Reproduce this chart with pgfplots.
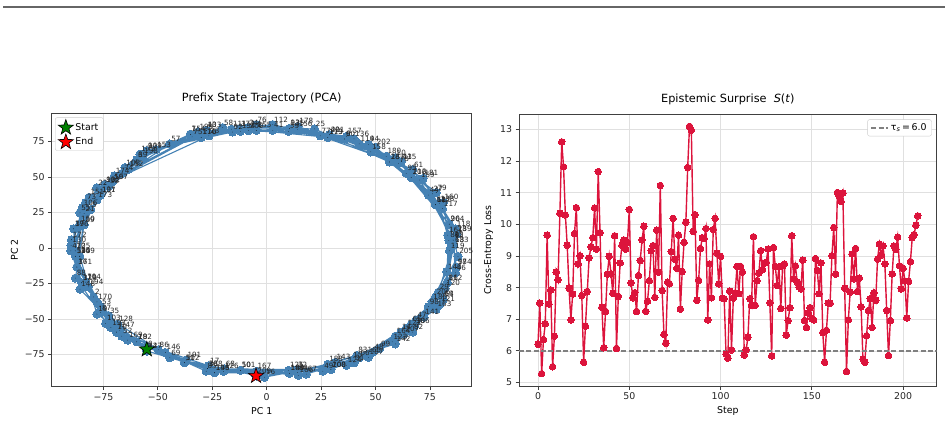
\documentclass[border=0pt]{standalone}
\usepackage{fontspec}
\setmainfont{DejaVu Sans}
\usepackage{pgfplots}
\usepackage{pgfplotstable}
\pgfplotsset{compat=1.18}
\definecolor{steel}{RGB}{70,130,180}
\definecolor{crim}{RGB}{220,20,60}
\definecolor{mgreen}{RGB}{0,128,0}
\definecolor{mred}{RGB}{255,0,0}
\pgfdeclareplotmark{fstar}{%
  \pgfpathmoveto{\pgfpointpolar{90}{\pgfplotmarksize}}%
  \pgfpathlineto{\pgfpointpolar{126}{0.40\pgfplotmarksize}}%
  \pgfpathlineto{\pgfpointpolar{162}{\pgfplotmarksize}}%
  \pgfpathlineto{\pgfpointpolar{198}{0.40\pgfplotmarksize}}%
  \pgfpathlineto{\pgfpointpolar{234}{\pgfplotmarksize}}%
  \pgfpathlineto{\pgfpointpolar{270}{0.40\pgfplotmarksize}}%
  \pgfpathlineto{\pgfpointpolar{306}{\pgfplotmarksize}}%
  \pgfpathlineto{\pgfpointpolar{342}{0.40\pgfplotmarksize}}%
  \pgfpathlineto{\pgfpointpolar{18}{\pgfplotmarksize}}%
  \pgfpathlineto{\pgfpointpolar{54}{0.40\pgfplotmarksize}}%
  \pgfpathclose
  \pgfusepathqfillstroke
}
\pgfplotsset{
  mystyle/.style={
    scale only axis,
    axis line style={black!75, line width=0.8bp},
    tick style={black!75, line width=0.8bp},
    tick align=outside, major tick length=3.5bp,
    xtick pos=left, ytick pos=left,
    grid=major, grid style={black!12, line width=0.7bp},
    tick label style={font=\fontsize{9.4bp}{11bp}\selectfont, text=black!85},
    label style={font=\fontsize{9.4bp}{11bp}\selectfont},
    title style={font=\fontsize{11.3bp}{13bp}\selectfont},
    /pgf/number format/assume math mode=true,
    legend style={font=\fontsize{9.4bp}{11bp}\selectfont, draw=black!20, fill=white, rounded corners=2bp},
    legend cell align=left,
  }
}
\pgfplotstableread{
n x y
0 -55.1 -71.4
1 -69.1 -59.2
2 -79.5 -34.5
3 -85.0 -24.5
4 -90.0 -2.0
5 -80.9 27.1
6 -59.7 62.1
7 -35.1 80.1
8 -4.8 82.9
9 35.8 76.8
10 59.1 63.6
11 77.5 30.5
12 85.7 5.6
13 81.1 -36.1
14 61.6 -59.4
15 39.2 -79.1
16 -1.0 -91.0
17 -26.6 -83.0
18 -59.7 -66.1
19 -78.0 -46.5
20 -85.9 -5.8
21 -83.9 24.2
22 -78.0 42.5
23 -26.6 79.0
24 -8.6 84.7
25 22.0 83.9
26 56.4 60.6
27 76.1 38.2
28 87.2 9.7
29 78.9 -31.1
30 68.0 -54.9
31 40.1 -80.9
32 13.8 -85.7
33 -27.2 -84.9
34 -55.1 -72.6
35 -72.6 -47.6
36 -87.2 -13.4
37 -88.7 13.5
38 -72.6 43.6
39 -59.7 62.1
40 -27.8 82.8
41 2.8 82.9
42 28.8 79.8
43 61.9 60.9
44 74.3 37.3
45 85.7 5.6
46 86.7 -17.5
47 68.7 -50.8
48 48.9 -73.3
49 25.8 -86.8
50 -12.1 -86.2
51 -37.8 -80.8
52 -66.6 -62.1
53 -76.3 -41.3
54 -87.9 -5.8
55 -85.8 24.8
56 -70.7 46.8
57 -44.5 73.3
58 -20.2 84.8
59 10.1 82.2
60 35.8 76.8
61 67.1 55.2
62 77.5 30.5
63 85.9 1.8
64 81.1 -36.1
65 66.4 -53.7
66 42.5 -77.3
67 18.2 -88.8
68 -19.4 -85.0
69 -44.5 -77.3
70 -69.1 -59.2
71 -83.1 -24.0
72 -88.0 -2.0
73 -83.2 32.1
74 -66.1 52.6
75 -34.3 78.3
76 -4.8 86.9
77 24.6 79.0
78 60.5 59.5
79 77.9 39.1
80 83.7 5.4
81 83.0 -24.5
82 67.1 -59.2
83 41.5 -75.6
84 14.1 -87.7
85 -27.8 -86.8
86 -49.8 -71.7
87 -76.3 -45.5
88 -87.9 -21.2
89 -83.9 16.4
90 -74.3 44.7
91 -55.1 68.6
92 -15.8 81.7
93 10.4 84.2
94 46.8 73.0
95 64.1 52.6
96 83.9 16.8
97 87.2 -13.7
98 74.3 -41.3
99 51.9 -71.0
100 29.5 -85.7
101 -12.1 -86.2
102 -37.8 -80.8
103 -74.0 -53.1
104 -83.1 -24.0
105 -88.0 -2.0
106 -84.7 28.5
107 -76.3 37.3
108 -65.1 56.7
109 -55.1 68.6
110 -30.1 77.9
111 -16.1 83.7
112 2.8 86.9
113 28.1 77.9
114 42.5 73.3
115 61.9 60.9
116 66.4 49.7
117 80.8 27.8
118 86.7 13.5
119 84.0 -2.0
120 81.9 -28.2
121 79.6 -39.7
122 64.1 -56.6
123 57.7 -66.1
124 36.7 -82.6
125 10.1 -86.2
126 -19.8 -86.9
127 -55.1 -72.6
128 -68.4 -53.7
129 -85.0 -24.5
130 -89.9 1.9
131 -76.3 37.3
132 -74.3 44.7
133 -27.8 82.8
134 -12.1 82.2
135 10.4 84.2
136 40.1 76.9
137 56.4 60.6
138 79.3 31.3
139 87.2 9.7
140 82.7 -16.8
141 72.3 -48.7
142 59.1 -67.6
143 31.5 -80.5
144 10.4 -88.2
145 -24.0 -87.9
146 -46.6 -73.6
147 -67.6 -57.9
148 -85.8 -29.0
149 -85.9 -5.8
150 -85.9 16.8
151 -81.6 35.7
152 -63.6 55.4
153 -50.9 69.3
154 -35.1 80.1
155 -4.8 82.9
156 14.1 83.7
157 36.7 78.6
158 47.8 67.7
159 70.3 47.9
160 81.1 32.1
161 83.2 9.1
162 83.0 -24.5
163 77.9 -43.1
164 59.1 -62.1
165 45.7 -75.3
166 14.5 -89.7
167 -4.8 -86.9
168 -27.2 -84.9
169 -63.9 -64.9
170 -78.0 -38.0
171 -87.2 -13.4
172 -89.7 5.8
173 -78.0 34.0
174 -70.0 50.9
175 -58.2 66.1
176 -30.1 77.9
177 -12.4 84.2
178 14.4 85.7
179 28.1 77.9
180 54.9 64.6
181 71.9 49.1
182 77.5 30.5
183 85.9 1.8
184 87.2 -13.7
185 76.0 -38.0
186 68.0 -54.9
187 46.7 -77.0
188 28.1 -81.9
189 10.4 -88.2
190 -24.0 -87.9
191 -37.0 -79.0
192 -59.7 -66.1
193 -71.6 -56.1
194 -82.0 -27.4
195 -87.9 -5.8
196 -88.7 13.5
197 -70.7 46.8
198 -56.9 64.6
199 -31.5 81.7
200 -8.4 82.7
201 28.8 79.8
202 50.0 70.9
203 66.4 49.7
204 83.9 16.8
205 87.9 -5.9
206 77.5 -34.5
207 63.1 -60.7
208 29.5 -85.7
209 -4.9 -90.1
}\pcadata
\pgfplotstableread{
s v
0 6.21
1 7.51
2 5.28
3 6.36
4 6.86
5 9.66
6 7.48
7 7.93
8 5.50
9 6.47
10 8.49
11 8.25
12 10.35
13 12.61
14 11.82
15 10.30
16 9.34
17 7.98
18 6.98
19 7.80
20 9.71
21 10.53
22 8.75
23 9.01
24 7.75
25 5.64
26 6.78
27 7.88
28 8.94
29 9.29
30 9.58
31 10.52
32 9.22
33 11.67
34 9.74
35 7.38
36 6.10
37 7.25
38 8.43
39 8.99
40 8.43
41 7.82
42 9.64
43 6.08
44 7.72
45 8.78
46 9.34
47 9.51
48 9.22
49 9.43
50 10.47
51 8.15
52 7.68
53 7.84
54 7.25
55 8.38
56 8.86
57 9.51
58 9.94
59 7.25
60 7.57
61 8.22
62 9.17
63 9.33
64 7.69
65 9.82
66 8.49
67 11.23
68 7.91
69 6.52
70 6.24
71 8.17
72 8.12
73 9.14
74 10.19
75 8.90
76 8.61
77 9.66
78 7.32
79 8.51
80 9.43
81 10.07
82 11.80
83 13.10
84 12.98
85 9.78
86 10.31
87 7.60
88 8.23
89 9.24
90 9.58
91 9.56
92 9.87
93 6.98
94 8.75
95 7.68
96 9.84
97 10.19
98 9.09
99 8.12
100 8.99
101 7.67
102 7.65
103 5.90
104 5.77
105 7.89
106 6.03
107 7.67
108 7.83
109 8.67
110 7.81
111 8.67
112 8.49
113 5.87
114 6.03
115 6.43
116 7.65
117 7.44
118 9.61
119 7.44
120 8.22
121 8.46
122 9.17
123 8.57
124 8.78
125 8.80
126 9.22
127 7.52
128 5.84
129 9.27
130 8.67
131 8.07
132 8.66
133 7.34
134 8.69
135 8.75
136 6.50
137 6.96
138 7.37
139 9.64
140 8.28
141 8.69
142 8.17
143 8.02
144 7.96
145 8.87
146 6.96
147 6.74
148 7.20
149 7.37
150 7.02
151 6.98
152 8.92
153 8.54
154 7.81
155 8.78
156 6.58
157 5.64
158 6.65
159 7.51
160 7.51
161 9.01
162 9.90
163 8.43
164 11.01
165 10.89
166 10.73
167 10.99
168 7.98
169 5.35
170 6.98
171 7.86
172 9.06
173 8.28
174 9.24
175 7.88
176 8.30
177 7.39
178 5.74
179 5.64
180 6.48
181 7.28
182 7.65
183 6.74
184 7.84
185 7.60
186 8.90
187 9.38
188 9.03
189 9.32
190 8.75
191 7.28
192 5.85
193 6.96
194 8.43
195 9.32
196 9.20
197 9.60
198 8.69
199 7.96
200 8.61
201 8.21
202 7.04
203 8.20
204 8.82
205 9.58
206 9.68
207 9.97
208 10.27
}\surprise
\begin{document}
\begin{tikzpicture}
\useasboundingbox (0,0) rectangle (948bp,423bp);
\draw[black!60, line width=1.5bp] (3bp,416.2bp) -- (945bp,416.2bp);
\begin{axis}[mystyle,
  at={(51.7bp,36.3bp)}, anchor=south west,
  width=420bp, height=273.4bp,
  xmin=-98.8, xmax=94.2, ymin=-97.7, ymax=94.9,
  xtick={-75,-50,-25,0,25,50,75},
  xticklabels={−75,−50,−25,0,25,50,75},
  ytick={-75,-50,-25,0,25,50,75},
  yticklabels={−75,−50,−25,0,25,50,75},
  xlabel={PC 1}, ylabel={PC 2},
  title={Prefix State Trajectory (PCA)},
  legend style={at={(0.008,0.985)}, anchor=north west},
]
\addplot[steel, line width=1.1bp, mark=*, mark size=4.1bp,
  mark options={fill=steel, draw=steel, line width=0pt}, forget plot]
  table[x=x, y=y] {\pcadata};
\addplot[only marks, mark=*, mark size=0.01bp, mark options={draw=none, fill=none},
  forget plot, nodes near coords, point meta=explicit symbolic,
  every node near coord/.append style={font=\fontsize{7.2bp}{8bp}\selectfont,
    anchor=south west, inner sep=0pt, xshift=1.2bp, yshift=2.2bp, text=black!85}]
  table[x=x, y=y, meta=n] {\pcadata};
\addplot[only marks, mark=fstar, mark size=8bp,
  mark options={fill=mgreen, draw=black, line width=0.6bp}]
  coordinates {(-55.1,-71.4)};
\addlegendentry{Start}
\addplot[only marks, mark=fstar, mark size=8bp,
  mark options={fill=mred, draw=black, line width=0.6bp}]
  coordinates {(-4.9,-90.1)};
\addlegendentry{End}
\end{axis}
\begin{axis}[mystyle,
  at={(519bp,37bp)}, anchor=south west,
  width=417.7bp, height=272bp,
  xmin=-10.4, xmax=218.4, ymin=4.89, ymax=13.49,
  xtick={0,50,100,150,200}, ytick={5,6,7,8,9,10,11,12,13},
  xlabel={Step}, ylabel={Cross-Entropy Loss},
  title={Epistemic Surprise\ \ \textit{S}(\textit{t})},
  legend style={at={(0.988,0.98)}, anchor=north east},
]
\addplot[crim, line width=1.4bp, mark=*, mark size=3.3bp,
  mark options={fill=crim, draw=crim, line width=0pt}, forget plot]
  table[x=s, y=v] {\surprise};
\addplot[gray, line width=1.4bp, dash pattern=on 5bp off 2.3bp]
  coordinates {(-10.4,6) (218.4,6)};
\addlegendentry{τ\textsubscript{\itshape s}\,=\,6.0}
\end{axis}
\end{tikzpicture}
\end{document}
